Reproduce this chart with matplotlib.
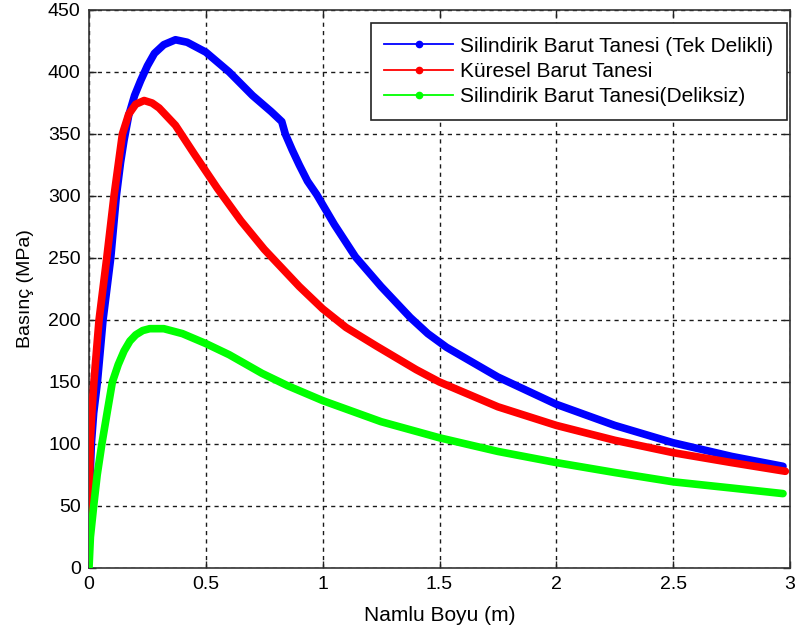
import matplotlib
matplotlib.use("Agg")
import matplotlib.pyplot as plt
from matplotlib.lines import Line2D

plt.rcParams['font.family'] = ['Liberation Sans', 'DejaVu Sans']

# Silindirik Barut Tanesi (Tek Delikli)
x_blue = [0, 0.005, 0.01, 0.02, 0.036, 0.06, 0.093, 0.117, 0.135, 0.15, 0.17, 0.195,
          0.221, 0.25, 0.28, 0.32, 0.37, 0.42, 0.5, 0.6, 0.7, 0.78, 0.825, 0.84, 0.87,
          0.9, 0.935, 0.975, 1.05, 1.14, 1.25, 1.375, 1.45, 1.53, 1.75, 2.0, 2.25,
          2.5, 2.75, 2.97]
y_blue = [40, 75, 100, 125, 150, 200, 250, 300, 327, 345, 365, 381,
          393, 405, 415, 422, 426, 424, 416, 400, 381, 368, 360, 350, 337,
          325, 312, 301, 277, 251, 227, 202, 189, 178, 154, 132, 115,
          101, 90, 82]

# Küresel Barut Tanesi
x_red = [0, 0.002, 0.005, 0.012, 0.021, 0.043, 0.076, 0.107, 0.143, 0.17, 0.2, 0.236,
         0.27, 0.3, 0.37, 0.45, 0.55, 0.65, 0.75, 0.85, 0.9, 1.0, 1.1, 1.23, 1.4, 1.5,
         1.75, 2.0, 2.25, 2.5, 2.75, 2.98]
y_red = [22, 60, 100, 125, 150, 200, 250, 300, 350, 366, 374, 377,
         375, 371, 357, 334, 306, 280, 257, 237, 227, 209, 194, 179, 160, 150,
         130, 115, 103, 93, 85, 78]

# Silindirik Barut Tanesi(Deliksiz)
x_green = [0, 0.006, 0.02, 0.035, 0.055, 0.08, 0.1, 0.125, 0.15, 0.175, 0.2, 0.23,
           0.26, 0.32, 0.4, 0.5, 0.6, 0.74, 0.85, 1.0, 1.25, 1.5, 1.75, 2.0, 2.25,
           2.5, 2.75, 2.97]
y_green = [0, 25, 50, 75, 100, 128, 150, 164, 175, 183, 188, 191.5,
           193, 193, 189, 181, 172, 157, 147, 135, 118, 105, 94, 85, 77,
           69.5, 64.5, 60]

labels = ['Silindirik Barut Tanesi (Tek Delikli)', 'Küresel Barut Tanesi',
          'Silindirik Barut Tanesi(Deliksiz)']
colors = ['#0000ff', '#ff0000', '#00ff00']
x_ticks = [0, 0.5, 1, 1.5, 2, 2.5, 3]
x_tick_labels = ['0', '0.5', '1', '1.5', '2', '2.5', '3']
y_ticks = [0, 50, 100, 150, 200, 250, 300, 350, 400, 450]

fig = plt.figure(figsize=(7.96, 6.33), dpi=100)
ax = fig.add_axes([89/796, 1-568/633, (790-89)/796, (568-10)/633])

series = [(x_blue, y_blue), (x_red, y_red), (x_green, y_green)]
for (xs, ys), c in zip(series, colors):
    ax.plot(xs, ys, color=c, lw=5.5, solid_joinstyle='round', solid_capstyle='round', zorder=3)

ax.set_xlim(0, 3)
ax.set_ylim(0, 450)
ax.set_xticks(x_ticks)
ax.set_xticklabels(x_tick_labels)
ax.set_yticks(y_ticks)
ax.grid(True, color='#1a1a1a', linestyle=(0, (3, 3)), lw=1.0)
ax.tick_params(direction='in', length=5, width=1, top=True, right=True,
               labelsize=14, colors='#222222', labelcolor='black', pad=6)
for sp in ax.spines.values():
    sp.set_color('#333333')
    sp.set_linewidth(1.2)

ax.set_xlabel('Namlu Boyu (m)', fontsize=15, labelpad=9)
ax.set_ylabel('Basınç (MPa)', fontsize=14, labelpad=10)

handles = [Line2D([], [], color=c, lw=1.3, marker='.', markersize=9) for c in colors]
leg = ax.legend(handles, labels, loc='upper right',
                bbox_to_anchor=((787-89)/(790-89), (568-23)/(568-10)),
                borderaxespad=0, fontsize=15, fancybox=False, framealpha=1,
                edgecolor='#222222', handlelength=3.3, handletextpad=0.35,
                labelspacing=0.3, borderpad=0.65)
leg.get_frame().set_linewidth(1.2)

fig.savefig('out.png', dpi=100)
